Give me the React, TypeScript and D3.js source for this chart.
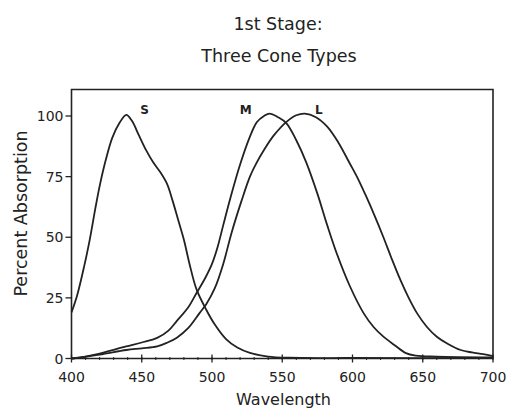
import React from "react";
import * as d3 from "d3";

const xTicks = [400, 450, 500, 550, 600, 650, 700];
const yTicks = [0, 25, 50, 75, 100];
const minorX = d3.range(400, 701, 10);

const sWave = [400, 404, 409, 413, 417, 420, 424, 429, 434, 439, 443, 448, 453, 458, 463, 468, 472, 476, 480, 484, 489, 496, 502, 510, 518, 527, 540, 555, 600, 700];
const sVal = [19, 26, 38, 49, 62, 71, 81, 91, 97, 100.5, 98, 92, 86, 81, 77, 72, 65, 57, 49, 39, 28.5, 20, 14, 8, 4.5, 2.3, 0.8, 0.3, 0.2, 0.2];

const mWave = [400, 410, 420, 430, 439, 450, 461, 469, 475, 483, 489, 495, 500, 504, 508, 513, 520, 527, 532, 537, 541, 547, 553, 560, 567, 575, 582, 589, 598, 608, 615, 622, 630, 638, 645, 660, 700];
const mVal = [0, 0.8, 2, 3.6, 5, 6.6, 8.5, 11.5, 15.5, 21, 27, 33, 39, 46, 55, 66, 80, 91.5, 97.5, 100, 101, 99.5, 97, 90, 81, 68, 55, 43, 30, 18.6, 13, 9, 5.5, 2.2, 1.2, 0.8, 0.5];

const lWave = [400, 420, 439, 450, 461, 468, 475, 483, 491, 496, 502, 508, 514, 521, 527, 532, 537, 544, 553, 560, 566, 574, 582, 590, 598, 604, 610, 616, 622, 628, 634, 640, 646, 653, 660, 668, 677, 685, 693, 700];
const lVal = [0, 1.6, 3.5, 4.2, 5, 6.5, 8.6, 12.5, 18.6, 22.5, 29, 39, 52, 65, 75, 81, 86, 92, 97.6, 100.3, 101, 99.5, 95.6, 89, 80.5, 74, 66.5, 58.5, 50, 41, 32.5, 25, 18.6, 13, 9, 6, 3.5, 2.5, 1.8, 1];

const curveNames = ["S", "M", "L"];
const curveLabelX = [452, 524, 576];

const W = 515;
const H = 408;
const x0 = 71.5, x1 = 493, y0 = 358.5, y1 = 116;

export default function App() {
  const x = d3.scaleLinear().domain([400, 700]).range([x0, x1]);
  const y = d3.scaleLinear().domain([0, 100]).range([y0, y1]);
  const line = d3
    .line<[number, number]>()
    .x((d) => x(d[0]))
    .y((d) => y(d[1]))
    .curve(d3.curveCatmullRom.alpha(0.5));
  const series: [number, number][][] = [
    sWave.map((w, i) => [w, sVal[i]]),
    mWave.map((w, i) => [w, mVal[i]]),
    lWave.map((w, i) => [w, lVal[i]]),
  ];
  const ink = "#222";
  const font = "'DejaVu Sans', Verdana, sans-serif";
  const topY = 89.5;
  return (
    <svg width={W} height={H} style={{ position: "absolute", left: 0, top: 0, background: "#fff" }} fontFamily={font}>
      <rect width={W} height={H} fill="#fff" />
      <text x={278} y={29.5} textAnchor="middle" fontSize={17.5} fill={ink}>1st Stage:</text>
      <text x={279} y={61.5} textAnchor="middle" fontSize={17.5} fill={ink}>Three Cone Types</text>
      <path d={`M${x0},${y0}V${topY}H${x1}V${y0}`} fill="none" stroke={ink} strokeWidth={1.6} />
      <line x1={x0} x2={x1} y1={y0} y2={y0} stroke={ink} strokeWidth={1.6} />
      {minorX.map((v) => (
        <line key={"m" + v} x1={x(v)} x2={x(v)} y1={y0 - 1.5} y2={y0 + 1.5} stroke={ink} strokeWidth={1} />
      ))}
      {xTicks.map((v) => (
        <g key={"x" + v}>
          <line x1={x(v)} x2={x(v)} y1={y0 - 4} y2={y0 + 4} stroke={ink} strokeWidth={1.3} />
          <text x={x(v)} y={y0 + 23} textAnchor="middle" fontSize={14} fill={ink}>{v}</text>
        </g>
      ))}
      {yTicks.map((v) => (
        <g key={"y" + v}>
          <line x1={x0 - 6} x2={v === 0 ? x0 + 4 : x0} y1={y(v)} y2={y(v)} stroke={ink} strokeWidth={1.3} />
          <text x={x0 - 8} y={y(v) + 5} textAnchor="end" fontSize={14} fill={ink}>{v}</text>
        </g>
      ))}
      <text x={283.5} y={405} textAnchor="middle" fontSize={16} fill={ink}>Wavelength</text>
      <text transform={`translate(27,213.5) rotate(-90)`} textAnchor="middle" fontSize={17.5} fill={ink}>Percent Absorption</text>
      {series.map((s, i) => (
        <path key={"c" + i} d={line(s) || ""} fill="none" stroke={ink} strokeWidth={1.8} />
      ))}
      {curveNames.map((n, i) => (
        <text key={"n" + n} x={x(curveLabelX[i])} y={113.5} textAnchor="middle" fontSize={12} fontWeight="bold" fill={ink}>{n}</text>
      ))}
    </svg>
  );
}
